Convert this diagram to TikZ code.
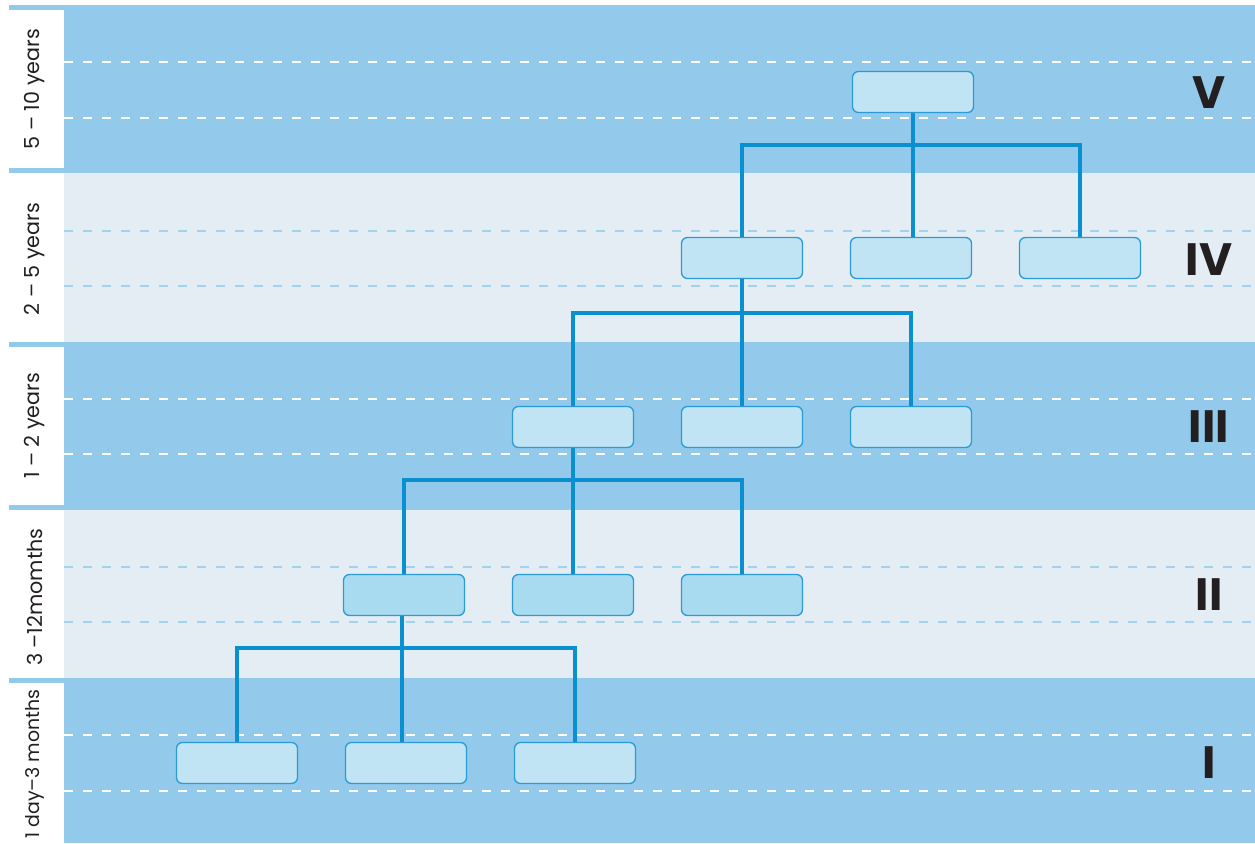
\documentclass[tikz,border=0pt]{standalone}
\usepackage{fontspec}
\setmainfont{Poppins}
\definecolor{darkband}{HTML}{93C9EB}
\definecolor{lightband}{HTML}{E4EDF3}
\definecolor{lightdash}{HTML}{9FD3F0}
\definecolor{conncol}{HTML}{0A90D0}
\definecolor{boxline}{HTML}{2A9BD6}
\definecolor{boxfill}{HTML}{C0E4F3}
\definecolor{boxfillb}{HTML}{A8DBEF}
\definecolor{inkcol}{HTML}{231F20}
\tikzset{
  box/.style={draw=boxline, line width=1pt, fill=boxfill, rounded corners=4.5pt,
    minimum width=90.75pt, minimum height=30.75pt, inner sep=0pt},
  boxb/.style={box, fill=boxfillb},
  conn/.style={draw=conncol, line width=3.5pt},
  wdash/.style={draw=white, line width=1.5pt, dash pattern=on 6.75pt off 7.5pt},
  ldash/.style={draw=lightdash, line width=1.2pt, dash pattern=on 6.75pt off 7.5pt},
  numeral/.style={font=\fontsize{34}{34}\selectfont\bfseries, text=inkcol, inner sep=0pt},
  yearlabel/.style={font=\fontsize{15.5}{15.5}\selectfont, text=inkcol, rotate=90, inner sep=0pt}
}
\begin{document}
\begin{tikzpicture}[x=0.75pt, y=-0.75pt]
\useasboundingbox (0,0) rectangle (1255,843);
\fill[white] (0,0) rectangle (1255,843);
% bands
\fill[darkband] (9,5) rectangle (1255,173);
\fill[lightband] (64,173) rectangle (1255,342);
\fill[darkband] (9,342) rectangle (1255,510);
\fill[lightband] (64,510) rectangle (1255,678);
\fill[darkband] (9,678) rectangle (1255,843);
% left label boxes
\fill[white] (9,10) rectangle (64,168);
\fill[white] (9,347) rectangle (64,505);
\fill[white] (9,683) rectangle (64,843);
% dashed lines
\draw[wdash] (64,62) -- (1255,62);
\draw[wdash] (64,118) -- (1255,118);
\draw[ldash] (64,231) -- (1255,231);
\draw[ldash] (64,286) -- (1255,286);
\draw[wdash] (64,399) -- (1255,399);
\draw[wdash] (64,454) -- (1255,454);
\draw[ldash] (64,567) -- (1255,567);
\draw[ldash] (64,622) -- (1255,622);
\draw[wdash] (64,735) -- (1255,735);
\draw[wdash] (64,791) -- (1255,791);
% labels
\node[yearlabel] (lv) at (35,89) {5 – 10 years};
\node[yearlabel] (liv) at (35,259) {2 – 5 years};
\node[yearlabel] (liii) at (35,426) {1 – 2 years};
\node[yearlabel] (lii) at (35,597) {3 –12momths};
\node[yearlabel, font=\fontsize{14.2}{14.2}\selectfont] (li) at (35,764) {1 day–3 months};
% numerals
\node[numeral] (nv) at (1209,93) {V};
\node[numeral] (niv) at (1209,260) {IV};
\node[numeral] (niii) at (1209,427) {III};
\node[numeral] (nii) at (1209,595) {II};
\node[numeral] (ni) at (1209,763) {I};
% bar coordinates
\coordinate (barv) at (0,145);
\coordinate (bariv) at (0,313);
\coordinate (bariii) at (0,480);
\coordinate (barii) at (0,648);
% connectors (drawn first, boxes on top)
\path (913,92) coordinate (pv1)
      (742,258) coordinate (pa1) (911,258) coordinate (pa2) (1080,258) coordinate (pa3)
      (573,427) coordinate (pb1) (742,427) coordinate (pb2) (911,427) coordinate (pb3)
      (404,595) coordinate (pc1) (573,595) coordinate (pc2) (742,595) coordinate (pc3)
      (237,763) coordinate (pd1) (406,763) coordinate (pd2) (575,763) coordinate (pd3);
\draw[conn] (pv1) -- (pv1 |- pa2);
\draw[conn] (pa1) -- (pa1 |- barv) -- (pa3 |- barv) -- (pa3);
\draw[conn] (pa1) -- (pa1 |- pb2);
\draw[conn] (pb1) -- (pb1 |- bariv) -- (pb3 |- bariv) -- (pb3);
\draw[conn] (pb1) -- (pb1 |- pc2);
\draw[conn] (pc1) -- (pc1 |- bariii) -- (pc3 |- bariii) -- (pc3);
\draw[conn] (402,595) -- (402,763);
\draw[conn] (pd1) -- (pd1 |- barii) -- (pd3 |- barii) -- (pd3);
% boxes
\node[box] (v1) at (pv1) {};
\node[box] (a1) at (pa1) {};
\node[box] (a2) at (pa2) {};
\node[box] (a3) at (pa3) {};
\node[box] (b1) at (pb1) {};
\node[box] (b2) at (pb2) {};
\node[box] (b3) at (pb3) {};
\node[boxb] (c1) at (pc1) {};
\node[boxb] (c2) at (pc2) {};
\node[boxb] (c3) at (pc3) {};
\node[box] (d1) at (pd1) {};
\node[box] (d2) at (pd2) {};
\node[box] (d3) at (pd3) {};
\end{tikzpicture}
\end{document}
